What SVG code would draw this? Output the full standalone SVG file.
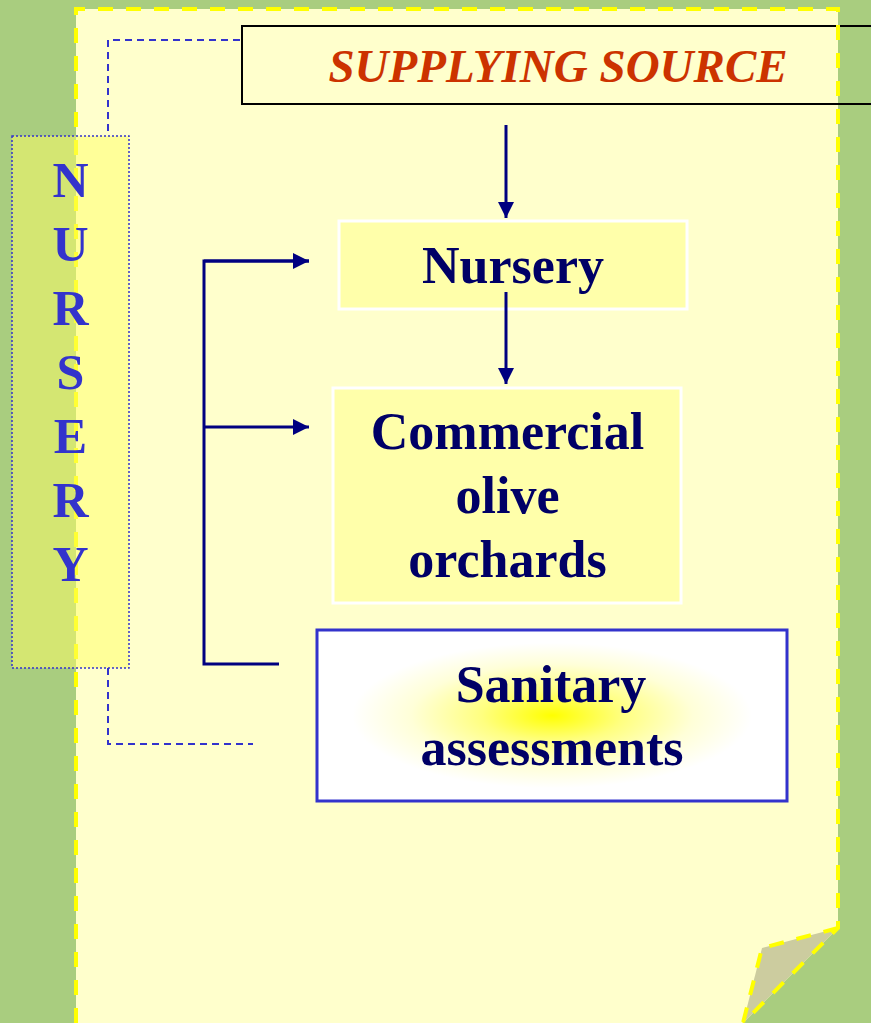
<svg xmlns="http://www.w3.org/2000/svg" width="871" height="1023" viewBox="0 0 871 1023">
<style>
.lbl{font-family:"Liberation Serif","Times New Roman",serif;font-weight:bold;fill:#000066;font-size:52px;text-anchor:middle}
.vert{font-family:"Liberation Serif","Times New Roman",serif;font-weight:bold;fill:#3333cc;font-size:50px;text-anchor:middle}
.conn{stroke:#000080;stroke-width:3;fill:none}
.dash{stroke:#3333cc;stroke-width:2;stroke-dasharray:7 5;fill:none}
.pageb{stroke:#ffff00;stroke-width:4;stroke-dasharray:15 13;fill:none}
</style>
<defs>
<marker id="ah" markerUnits="userSpaceOnUse" markerWidth="18" markerHeight="18" refX="16" refY="8" orient="auto">
<path d="M0,0 L16,8 L0,16 Z" fill="#000080"/>
</marker>
<radialGradient id="sg" cx="0.5" cy="0.5" r="0.5">
<stop offset="0" stop-color="#ffff00"/>
<stop offset="0.3" stop-color="#ffff80"/>
<stop offset="0.6" stop-color="#ffffd8"/>
<stop offset="0.85" stop-color="#ffffff"/>
<stop offset="1" stop-color="#ffffff"/>
</radialGradient>
</defs>
<rect x="0" y="0" width="871" height="1023" fill="#a9cd7f"/>
<g id="page">
<polygon points="76,9 838,9 838,928 743,1023 76,1023" fill="#ffffcc"/>
<polygon points="838,928 762,948 743,1023" fill="#cccc9f"/>
</g>
<g id="supplying-source">
<rect x="242" y="26" width="650" height="78" fill="none" stroke="#000000" stroke-width="2"/>
<text x="558" y="82" font-family="'Liberation Serif','Times New Roman',serif" font-weight="bold" font-style="italic" font-size="47" fill="#cc3300" text-anchor="middle">SUPPLYING SOURCE</text>
</g>
<g id="page-border">
<polyline class="pageb" points="76,1023 76,9 838,9 838,928 743,1023"/>
<polyline class="pageb" points="838,928 762,948 743,1023"/>
</g>
<g id="nursery-side">
<rect x="12" y="136" width="117" height="532" fill="#ffff66" fill-opacity="0.5" stroke="#3333cc" stroke-width="1.5" stroke-dasharray="2 2"/>
<text class="vert" x="70.5" y="197">N</text>
<text class="vert" x="70.5" y="261">U</text>
<text class="vert" x="70.5" y="325">R</text>
<text class="vert" x="70.5" y="389">S</text>
<text class="vert" x="70.5" y="453">E</text>
<text class="vert" x="70.5" y="517">R</text>
<text class="vert" x="70.5" y="581">Y</text>
</g>
<g id="nursery">
<rect x="339" y="221" width="348" height="88" fill="#ffffaa" stroke="#ffffff" stroke-width="3"/>
<text class="lbl" x="513" y="283">Nursery</text>
</g>
<g id="commercial">
<rect x="333" y="388" width="348" height="215" fill="#ffffaa" stroke="#ffffff" stroke-width="3"/>
<text class="lbl" x="507.5" y="449">Commercial</text>
<text class="lbl" x="507.5" y="513">olive</text>
<text class="lbl" x="507.5" y="577">orchards</text>
</g>
<g id="sanitary">
<rect x="317" y="630" width="470" height="171" fill="url(#sg)" stroke="#3333cc" stroke-width="3"/>
<text class="lbl" x="551" y="702">Sanitary</text>
<text class="lbl" x="552" y="765">assessments</text>
</g>
<g id="connectors">
<polyline class="dash" points="240,40 108,40 108,135"/>
<polyline class="dash" points="108,668 108,744 253,744"/>
<line class="conn" x1="506" y1="125" x2="506" y2="218" marker-end="url(#ah)"/>
<line class="conn" x1="506" y1="292" x2="506" y2="384" marker-end="url(#ah)"/>
<polyline class="conn" points="309,261 204,261 204,664 279,664"/>
<line class="conn" x1="204" y1="261" x2="309" y2="261" marker-end="url(#ah)"/>
<line class="conn" x1="204" y1="427" x2="309" y2="427" marker-end="url(#ah)"/>
</g>
</svg>
